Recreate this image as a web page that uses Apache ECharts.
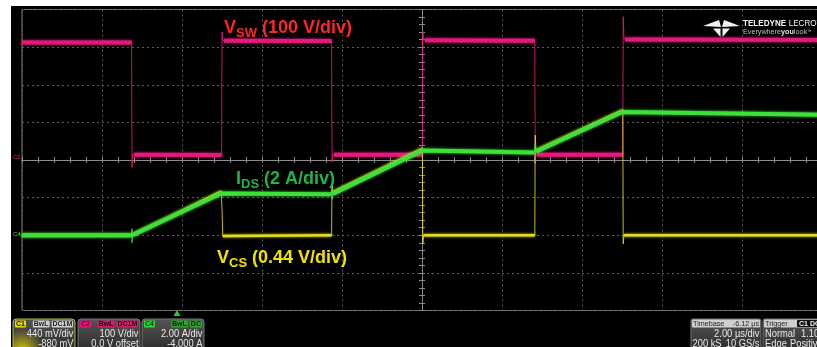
<!DOCTYPE html>
<html>
<head>
<meta charset="utf-8">
<script src="https://cdn.jsdelivr.net/npm/echarts@6/dist/echarts.min.js"></script>
<style>
  html, body { margin: 0; padding: 0; background: #fff; width: 817px; height: 347px; overflow: hidden; position: relative; }
  #scope { position: absolute; left: 11px; top: 6px; width: 815px; height: 345px; background: #000; }
</style>
</head>
<body>
<div id="scope"></div>
<script>
// Horizontal: time in µs, 0 = screen centre, 2 µs/div over 10 divisions.
// Vertical: 8 divisions; each channel is mapped through its own V/div (A/div) and offset.
const timeMin = -10, timeMax = 10, timePerDiv = 2;
const divMin = -4, divMax = 4;

// Channel settings
const swScale = 100,  swOffset = 0;      // C2  V_SW  (V/div, V)
const idsScale = 2,   idsOffset = -4;    // C4  I_DS  (A/div, A)
const csScale = 0.44, csOffset = -0.88;  // C1  V_CS  (V/div, V)

// C2: switch-node voltage V_SW (V)
const swTime  = [-10, -7.26, -7.25, -7.23, -7.2, -5.01, -5.0, -4.98, -4.95, -2.26, -2.25, -2.23, -2.2, 0.01, 0.02, 0.04, 0.07, 2.82, 2.83, 2.85, 2.88, 5.02, 5.03, 5.05, 5.08, 10];
const swVolts = [312, 312, -20, 16, 14, 13, 340, 318, 317, 316, -5, 15, 14, 14, 342, 320, 318, 317, -10, 14, 14, 14, 381, 322, 320, 319];

// C4: drain current I_DS (A)
const idsTime = [-10, -7.27, -7.25, -7.25, -7.23, -5.02, -4.98, -2.27, -2.25, -2.25, -2.23, 0.0, 0.04, 2.81, 2.83, 2.83, 2.86, 5.01, 5.05, 10];
const idsAmps = [0.0, 0.0, 0.35, -0.4, 0.02, 2.22, 2.24, 2.18, 2.5, 1.9, 2.2, 4.5, 4.53, 4.4, 4.9, 4.2, 4.45, 6.55, 6.56, 6.4];

// C1: current-sense voltage V_CS (V)
const csTime  = [-10, -7.25, -5.02, -5.0, -4.98, -2.26, -2.25, -2.23, 0.01, 0.02, 0.04, 2.82, 2.83, 2.85, 5.02, 5.03, 5.05, 10];
const csVolts = [0.0, 0.0, 0.51, 0.3, -0.01, 0.0, 0.6, 0.5, 1.01, -0.1, 0.0, 0.0, 1.17, 0.99, 1.46, -0.1, 0.0, 0.0];

// Readout panel texts
const c1Readout = ['440 mV/div', '-880 mV'];
const c2Readout = ['100 V/div', '0.0 V offset'];
const c4Readout = ['2.00 A/div', '-4.000 A'];
const timebaseReadout = ['Timebase', '-6.12 µs', '2.00 µs/div', '200 kS', '10 GS/s'];
const triggerReadout = ['Trigger', 'C1 DC', 'Normal', '1.10 V', 'Edge', 'Positive'];

function toDivs(times, values, scale, offset) {
  return times.map((t, i) => [t, (values[i] + offset) / scale]);
}
// Fast edges are drawn faintly on a scope; keep only the slow parts for the bright trace.
const EDGE_DT = 0.035;
function slowParts(points) {
  const out = [points[0]];
  for (let i = 1; i < points.length; i++) {
    if (points[i][0] - points[i - 1][0] < EDGE_DT) out.push('-');
    out.push(points[i]);
  }
  return out;
}

const PINK = '#e5197c', GREEN = '#3ee03a', YELLOW = '#e3dd1e';
const OX = 11, OY = 6; // page position of the scope screen
const FONT = 'Liberation Sans, Arial, sans-serif';

function tx(x, y, text, style, extra) {
  return Object.assign({
    type: 'text', x: x - OX, y: y - OY, silent: true, z: 50,
    style: Object.assign({ text: text, fill: '#e8e8e8', fontFamily: FONT, fontSize: 10, align: 'left', verticalAlign: 'middle' }, style || {})
  }, extra || {});
}
function box(x, y, w, h, fill, stroke, r, z) {
  return {
    type: 'rect', silent: true, z: z || 40,
    shape: { x: x - OX, y: y - OY, width: w, height: h, r: r || 0 },
    style: { fill: fill, stroke: stroke || null, lineWidth: stroke ? 1 : 0 }
  };
}
function tag(x, y, w, text, fill, color) {
  return [
    box(x, y, w, 7, fill, null, 1, 45),
    tx(x + w / 2, y + 3.7, text, { fill: color, fontSize: 7, fontWeight: 'bold', align: 'center' })
  ];
}
function panelFill() {
  return new echarts.graphic.LinearGradient(0, 0, 0, 1, [
    { offset: 0, color: '#555555' }, { offset: 1, color: '#2b2b2b' }
  ]);
}

const graphics = [];

// Waveform labels
function label(x, y, main, sub, rest, color) {
  graphics.push({
    type: 'text', x: x - OX, y: y - OY, silent: true, z: 60,
    style: {
      text: '{m|' + main + '}{s|' + sub + '}{m|' + rest + '}',
      rich: {
        m: { fontSize: 18, fontWeight: 'bold', fontFamily: FONT, fill: color, color: color },
        s: { fontSize: 13, fontWeight: 'bold', fontFamily: FONT, fill: color, color: color, padding: [10, 0, 0, 0] }
      }
    }
  });
}
label(224, 17, 'V', 'SW', ' (100 V/div)', '#ff2626');
label(236, 168, 'I', 'DS', ' (2 A/div)', '#22b24a');
label(217, 247, 'V', 'CS', ' (0.44 V/div)', '#efe400');

// Brand mark
const logo = [
  [[703, 26], [719, 20], [721, 27]],
  [[740, 26], [724, 20], [722, 27]],
  [[713, 28.5], [720.5, 28.5], [720.5, 37]],
  [[730, 28.5], [722.5, 28.5], [722.5, 37]]
];
logo.forEach(poly => graphics.push({
  type: 'polygon', silent: true, z: 50,
  shape: { points: poly.map(p => [p[0] - OX, p[1] - OY]) },
  style: { fill: '#f2f2f2' }
}));
graphics.push(tx(743, 24, '{b|TELEDYNE} {r|LECROY}', {
  rich: {
    b: { fontSize: 9, fontWeight: 'bold', fontFamily: FONT, fill: '#f4f4f4' },
    r: { fontSize: 9, fontFamily: FONT, fill: '#f4f4f4' }
  }
}, { scaleX: 0.9 }));
graphics.push(tx(743, 32, '{r|Everywhere}{b|you}{r|look}{t|™}', {
  rich: {
    b: { fontSize: 8, fontWeight: 'bold', fontFamily: FONT, fill: '#e0e0e0' },
    r: { fontSize: 8, fontFamily: FONT, fill: '#bdbdbd' },
    t: { fontSize: 5, fontFamily: FONT, fill: '#bdbdbd' }
  }
}, { scaleX: 0.9 }));

// Channel ground markers at the left edge
graphics.push(tx(13, 157, 'C2', { fill: PINK, fontSize: 6 }));
graphics.push(tx(13, 234, 'C4', { fill: GREEN, fontSize: 6 }));

// Trigger position marker
graphics.push({
  type: 'polygon', silent: true, z: 50,
  shape: { points: [[177 - OX, 310 - OY], [173.5 - OX, 316 - OY], [180.5 - OX, 316 - OY]] },
  style: { fill: '#2ec82e' }
});

// Channel readout panels
const NARROW = { scaleX: 0.85 };
function channelPanel(x, w, name, tags, lines, tagFill, tagText, nameFill, nameText, border) {
  graphics.push(box(x, 319, w, 32, panelFill(), border, 3, 40));
  graphics.push(...tag(x + 2, 320.5, 11, name, nameFill, nameText));
  let tx0 = x + w - 2;
  for (let i = tags.length - 1; i >= 0; i--) {
    const tw = tags[i].length * 4.6 + 3;
    tx0 -= tw;
    graphics.push(...tag(tx0, 320.5, tw, tags[i], tagFill, tagText));
    tx0 -= 2;
  }
  graphics.push(tx(x + w - 1.5, 333.5, lines[0], { align: 'right', fontSize: 11 }, NARROW));
  graphics.push(tx(x + w - 1.5, 343.5, lines[1], { align: 'right', fontSize: 11 }, NARROW));
}
// C1 glow
graphics.push({
  type: 'rect', silent: true, z: 41,
  shape: { x: 13 - OX, y: 327 - OY, width: 62, height: 24, r: 3 },
  style: {
    fill: new echarts.graphic.RadialGradient(0.15, 1, 0.9, [
      { offset: 0, color: 'rgba(225,215,0,0.95)' }, { offset: 1, color: 'rgba(225,215,0,0)' }
    ])
  }
});
channelPanel(13, 62, 'C1', ['BwL', 'DC1M'], c1Readout, '#cfcfcf', '#222', '#e6e000', '#111', '#bdb640');
channelPanel(78, 62, 'C2', ['BwL', 'DC1M'], c2Readout, '#d01e6c', '#2a0014', '#e5197c', '#7d0036', '#777');
channelPanel(142, 62, 'C4', ['BwL', 'DC'], c4Readout, '#2aa82a', '#072207', '#33d633', '#0b3a0b', '#777');

// Timebase and trigger panels
graphics.push(box(691, 319, 70, 32, panelFill(), '#777', 2, 40));
graphics.push(box(692, 319.5, 68, 8, '#cfcfcf', null, 1, 42));
graphics.push(tx(693, 323.5, timebaseReadout[0], { fill: '#222', fontSize: 8 }, { scaleX: 0.9 }));
graphics.push(tx(759, 323.5, timebaseReadout[1], { fill: '#222', fontSize: 8, align: 'right' }, { scaleX: 0.9 }));
graphics.push(tx(759.5, 333.5, timebaseReadout[2], { align: 'right', fontSize: 11 }, NARROW));
graphics.push(tx(692.5, 343.5, timebaseReadout[3], { fontSize: 11 }, NARROW));
graphics.push(tx(759.5, 343.5, timebaseReadout[4], { align: 'right', fontSize: 11 }, NARROW));

graphics.push(box(763, 319, 70, 32, panelFill(), '#777', 2, 40));
graphics.push(box(764, 319.5, 68, 8, '#cfcfcf', null, 1, 42));
graphics.push(tx(765, 323.5, triggerReadout[0], { fill: '#222', fontSize: 8 }, { scaleX: 0.9 }));
graphics.push(box(797, 320, 24, 7, '#111', null, 1, 44));
graphics.push(tx(799, 323.6, triggerReadout[1], { fill: '#eee', fontSize: 7, fontWeight: 'bold' }));
graphics.push(tx(765, 333.5, triggerReadout[2], { fontSize: 11 }, NARROW));
graphics.push(tx(801, 333.5, triggerReadout[3], { fontSize: 11 }, NARROW));
graphics.push(tx(765, 343.5, triggerReadout[4], { fontSize: 11 }, NARROW));
graphics.push(tx(790, 343.5, triggerReadout[5], { fontSize: 11 }, NARROW));

const GRID_COLOR = '#5c5c5c';
const AXIS_COLOR = '#8a8a8a';

function centreX(position, withGrid) {
  return {
    type: 'value', min: timeMin, max: timeMax, interval: timePerDiv, position: position,
    axisLine: { show: true, onZero: true, onZeroAxisIndex: 0, lineStyle: { color: AXIS_COLOR, width: 1 } },
    axisTick: { show: true, inside: true, length: 3, lineStyle: { color: AXIS_COLOR } },
    minorTick: { show: true, splitNumber: 5, length: 3, lineStyle: { color: AXIS_COLOR } },
    axisLabel: { show: false },
    splitLine: { show: withGrid, lineStyle: { color: GRID_COLOR, type: [2, 3], width: 1 } }
  };
}
function centreY(position, withGrid) {
  return {
    type: 'value', min: divMin, max: divMax, interval: 1, position: position,
    axisLine: { show: true, onZero: true, onZeroAxisIndex: 0, lineStyle: { color: AXIS_COLOR, width: 1 } },
    axisTick: { show: true, inside: true, length: 3, lineStyle: { color: AXIS_COLOR } },
    minorTick: { show: true, splitNumber: 5, length: 3, lineStyle: { color: AXIS_COLOR } },
    axisLabel: { show: false },
    splitLine: { show: withGrid, lineStyle: { color: GRID_COLOR, type: [2, 3], width: 1 } }
  };
}

// Each channel: a faint 1 px pass over every sample, then the bright slow segments on top.
function channel(name, points, color, width, z) {
  return [
    {
      name: name, type: 'line', data: points, showSymbol: false, symbol: 'none', z: z,
      clip: true, animation: false,
      lineStyle: { color: color, width: 1, opacity: 0.85 }
    },
    {
      name: name, type: 'line', data: slowParts(points), showSymbol: false, symbol: 'none', z: z,
      clip: true, animation: false, connectNulls: false,
      lineStyle: { color: color, width: width, shadowColor: color, shadowBlur: 3, join: 'round' }
    }
  ];
}

const chart = echarts.init(document.getElementById('scope'), null, { renderer: 'canvas' });
chart.setOption({
  backgroundColor: '#000',
  animation: false,
  grid: { left: 22 - OX, top: 9.5 - OY, width: 800, height: 301, show: true, borderColor: '#7c7c7c', borderWidth: 1, backgroundColor: 'transparent' },
  xAxis: [centreX('bottom', true), centreX('top', false)],
  yAxis: [centreY('left', true), centreY('right', false)],
  series: [
    ...channel('V_SW', toDivs(swTime, swVolts, swScale, swOffset), PINK, 4, 3),
    ...channel('V_CS', toDivs(csTime, csVolts, csScale, csOffset), YELLOW, 2.5, 4),
    ...channel('I_DS', toDivs(idsTime, idsAmps, idsScale, idsOffset), GREEN, 4, 5)
  ],
  graphic: graphics
});
</script>
</body>
</html>
